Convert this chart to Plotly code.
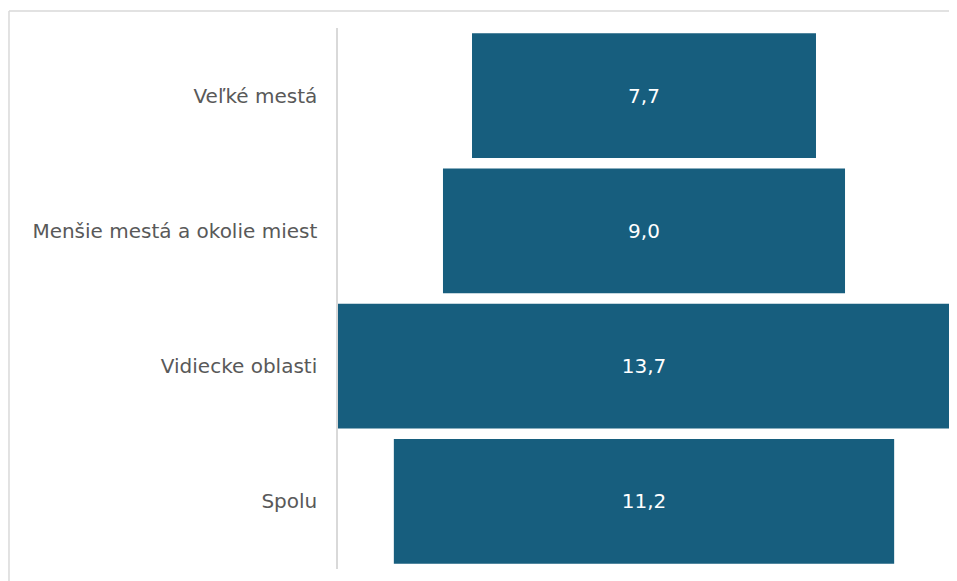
import plotly.graph_objects as go

categories = ["Veľké mestá", "Menšie mestá a okolie miest", "Vidiecke oblasti", "Spolu"]
values = [7.7, 9.0, 13.7, 11.2]

fig = go.Figure(go.Funnel(
    y=categories,
    x=values,
    marker=dict(color="#175E7E"),
    connector=dict(visible=False),
    textinfo="value",
    texttemplate="%{x:.1f}",
    textposition="inside",
    insidetextanchor="middle",
    textfont=dict(color="white", size=20, family="DejaVu Sans"),
    hoverinfo="skip",
))

border = dict(color="#D9D9D9", width=1.5)
fig.update_layout(
    width=957, height=581,
    margin=dict(l=330, r=15, t=20, b=20),
    paper_bgcolor="white", plot_bgcolor="white",
    separators=", ",
    showlegend=False,
    funnelgap=0.076,
    font=dict(family="DejaVu Sans", size=20, color="#595959"),
    xaxis=dict(visible=False, range=[-6.85, 6.85]),
    yaxis=dict(showline=True, linecolor="#D9D9D9", linewidth=1.5, showgrid=False,
               ticks="", ticklabelstandoff=15, tickfont=dict(size=20, color="#595959")),
    shapes=[
        dict(type="line", xref="paper", yref="paper", x0=-0.5376, x1=1.2,
             y0=1.0314, y1=1.0314, line=border, layer="below"),
        dict(type="line", xref="paper", yref="paper", x0=-0.5376, x1=-0.5376,
             y0=-0.2, y1=1.0314, line=border, layer="below"),
    ],
)

fig.write_html("out.html")
